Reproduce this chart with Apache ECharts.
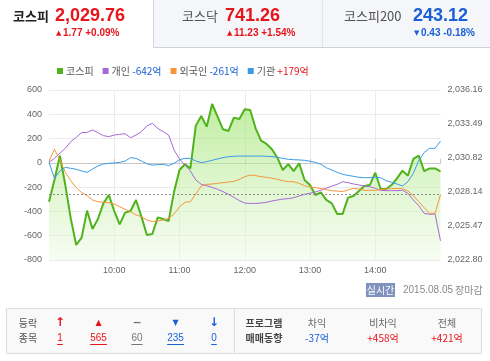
<!DOCTYPE html>
<html><head><meta charset="utf-8">
<script src="https://cdn.jsdelivr.net/npm/echarts@6/dist/echarts.min.js"></script>
<style>html,body{margin:0;padding:0;background:#fff}#c{width:490px;height:361px}</style>
</head><body><div id="c"></div><script>
// ---------- data ----------
const times = ['09:00','09:05','09:10','09:15','09:20','09:25','09:30','09:35','09:40','09:45','09:50','09:55',
'10:00','10:05','10:10','10:15','10:20','10:25','10:30','10:35','10:40','10:45','10:50','10:55',
'11:00','11:05','11:10','11:15','11:20','11:25','11:30','11:35','11:40','11:45','11:50','11:55',
'12:00','12:05','12:10','12:15','12:20','12:25','12:30','12:35','12:40','12:45','12:50','12:55',
'13:00','13:05','13:10','13:15','13:20','13:25','13:30','13:35','13:40','13:45','13:50','13:55',
'14:00','14:05','14:10','14:15','14:20','14:25','14:30','14:35','14:40','14:45','14:50','14:55',
'15:00'];
const kospi = [2027.38,2029.09,2031.00,2028.69,2026.07,2023.98,2024.56,2026.68,2025.24,2026.02,2027.25,2027.91,
2026.65,2025.60,2026.52,2026.65,2027.52,2026.21,2024.76,2024.84,2026.15,2026.02,2025.87,2028.17,
2029.87,2030.32,2030.00,2033.36,2034.12,2033.28,2035.06,2034.06,2033.07,2032.94,2033.99,2033.88,
2034.64,2034.59,2033.15,2032.18,2031.92,2031.50,2030.84,2029.87,2030.34,2029.79,2030.40,2029.09,
2028.69,2027.91,2028.12,2027.52,2027.25,2026.42,2026.42,2027.70,2027.83,2028.22,2028.62,2028.69,
2029.66,2028.38,2028.38,2028.69,2029.22,2029.82,2029.43,2030.74,2031.00,2029.79,2030.00,2030.00,
2029.76];
const individual = [4,37,79,120,175,210,249,251,271,249,224,216,
229,235,240,207,229,257,304,326,284,257,229,106,
32,-18,-67,-141,-177,-188,-202,-218,-237,-259,-284,-311,
-331,-334,-334,-331,-325,-314,-306,-298,-295,-287,-273,-259,
-250,-240,-225,-208,-191,-177,-155,-163,-174,-182,-191,-196,
-210,-226,-229,-229,-229,-226,-251,-306,-353,-416,-424,-421,
-642];
const foreign = [15,111,24,-78,-147,-204,-245,-270,-306,-320,-325,-328,
-339,-361,-383,-402,-429,-443,-471,-484,-478,-471,-457,-421,
-363,-325,-320,-256,-191,-177,-174,-169,-163,-158,-152,-136,
-114,-100,-105,-114,-119,-127,-136,-147,-155,-155,-169,-188,
-199,-204,-212,-221,-229,-232,-237,-223,-210,-215,-226,-226,
-226,-221,-215,-212,-212,-212,-232,-270,-320,-369,-416,-416,
-261];
const institution = [4,-127,-67,-37,-45,-53,-67,-78,-51,-26,-9,-4,
-1,4,15,43,37,15,-7,-18,-15,-12,-23,-4,
26,37,37,15,2,10,21,32,43,51,54,56,
56,56,56,56,54,51,46,37,29,26,24,21,
13,4,-12,-40,-59,-78,-94,-103,-111,-119,-122,-122,
-119,-122,-147,-160,-174,-191,-155,-86,20,85,120,120,
179];
const prevClose = 2027.99;
const rightTicks = [2022.80, 2025.472, 2028.144, 2030.816, 2033.488, 2036.16];
const seriesNames = ['코스피','개인','외국인','기관'];
const netFlow = {'개인':'-642억','외국인':'-261억','기관':'+179억'};
const tabNames = ['코스피','코스닥','코스피200'];
const tabValues = ['2,029.76','741.26','243.12'];
const tabChanges = ['1.77 +0.09%','11.23 +1.54%','0.43 -0.18%'];
const upDownCounts = ['1','565','60','235','0'];
const programLabels = ['차익','비차익','전체'];
const programValues = ['-37억','+458억','+421억'];

// ---------- styles ----------
const RED = '#e8141b', BLUE = '#1a5fd6';
const KR = '"Noto Sans CJK KR"';
const LS = '"Liberation Sans"';
const C = {kospi:'#4fb31b', ind:'#a66ad6', for:'#f7943a', inst:'#3b9be6'};

function txt(x, y, text, font, fill, align) {
  return {type:'text', x:x, y:y, silent:true, z:100,
    style:{text:text, font:font, fill:fill, textAlign:align||'left', textVerticalAlign:'middle'}};
}
function hline(x1, x2, y, color) {
  return {type:'line', silent:true, z:90, shape:{x1:x1,y1:y,x2:x2,y2:y}, style:{stroke:color, lineWidth:1}};
}
function vline(x, y1, y2, color) {
  return {type:'line', silent:true, z:90, shape:{x1:x,y1:y1,x2:x,y2:y2}, style:{stroke:color, lineWidth:1}};
}

const g = [];
// tabs
g.push({type:'rect', silent:true, z:80, shape:{x:153,y:0,width:337,height:47}, style:{fill:'#f5f6f9'}});
g.push(vline(153.5,0,47,'#d6d9df'));
g.push(vline(322.5,0,47,'#e1e3e8'));
g.push(hline(153,490,47.5,'#cdd1d8'));
const tabX = [13,182,344], valX=[55,225,413], chX=[56,227,414];
const tabNameColor = ['#222','#555','#555'];
const valColor = [RED,RED,BLUE];
const arrows = ['▲','▲','▼'];
for (let i=0;i<3;i++){
  g.push(txt(tabX[i],16,tabNames[i],(i===0?'bold ':'')+'13px '+KR,tabNameColor[i]));
  g.push(txt(valX[i],16,tabValues[i],'bold 18px '+LS,valColor[i]));
  g.push(txt(chX[i],33,arrows[i],'7px "DejaVu Sans"',valColor[i]));
  g.push(txt(chX[i]+7,33,tabChanges[i],'bold 10px '+LS,valColor[i]));
}
// bottom status
g.push({type:'rect', silent:true, z:80, shape:{x:366,y:283,width:29,height:14}, style:{fill:'#7f92bd'}});
g.push(txt(380.5,290,'실시간','10px '+KR,'#fff','center'));
g.push(txt(403,290,'2015.08.05','10px '+LS,'#8a8a8a'));
g.push(txt(455,290,'장마감','10px '+KR,'#8a8a8a'));
// table
g.push({type:'rect', silent:true, z:80, shape:{x:6.5,y:308.5,width:475,height:45}, style:{fill:'#f9f9f9', stroke:'#dcdcdc', lineWidth:1}});
g.push(vline(234.5,309,353,'#dcdcdc'));
g.push(txt(28,323,'등락','10px '+KR,'#555','center'));
g.push(txt(28,338,'종목','10px '+KR,'#555','center'));
const udX = [60,98.5,137,175.5,214];
const udSym = ['↑','▲','−','▼','↓'];
const udFont = ['bold 12px "DejaVu Sans"','8px "DejaVu Sans"','bold 11px "DejaVu Sans"','8px "DejaVu Sans"','bold 12px "DejaVu Sans"'];
const udCol = [RED,RED,'#777',BLUE,BLUE];
for (let i=0;i<5;i++){
  g.push(txt(udX[i],323,udSym[i],udFont[i],udCol[i],'center'));
  g.push(txt(udX[i],338,upDownCounts[i],'10px '+LS,udCol[i],'center'));
  const w = upDownCounts[i].length*5.6;
  g.push(hline(udX[i]-w/2,udX[i]+w/2,344.5,udCol[i]));
}
g.push(txt(264,323,'프로그램','bold 10px '+KR,'#444','center'));
g.push(txt(264,338,'매매동향','bold 10px '+KR,'#444','center'));
const pX = [317,383,447];
for (let i=0;i<3;i++){
  g.push(txt(pX[i],323,programLabels[i],'10px '+KR,'#666','center'));
  g.push(txt(pX[i],338,programValues[i],'10px '+KR,programValues[i][0]==='-'?BLUE:RED,'center'));
}

const chart = echarts.init(document.getElementById('c'), null, {renderer:'canvas'});
chart.setOption({
  animation:false,
  backgroundColor:'#fff',
  grid:{left:49, right:49.5, top:90, bottom:101, containLabel:false},
  legend:{
    left:57, top:66, padding:0, icon:'rect', itemWidth:6, itemHeight:6, itemGap:9,
    data:seriesNames,
    textStyle:{fontSize:10, color:'#555', fontFamily:KR, padding:[0,0,0,-2],
      rich:{neg:{color:BLUE,fontSize:10,fontFamily:KR}, pos:{color:RED,fontSize:10,fontFamily:KR}}},
    formatter:function(n){ const f=netFlow[n]; if(!f) return n; return n+' {'+(f[0]==='-'?'neg':'pos')+'|'+f+'}'; }
  },
  xAxis:{
    type:'category', data:times, boundaryGap:false,
    axisLine:{lineStyle:{color:'#c8c8c8'}},
    axisTick:{show:true, inside:true, length:4, interval:11, lineStyle:{color:'#c8c8c8'}},
    axisLabel:{interval:11, fontSize:9, color:'#666', fontFamily:LS, margin:6,
      formatter:function(v){ return (v==='09:00'||v==='15:00')?'':v; }},
    splitLine:{show:true, interval:11, showMinLine:false, showMaxLine:false, lineStyle:{color:'#ebebeb'}}
  },
  yAxis:[
    {type:'value', min:-800, max:600, interval:200, position:'left',
     axisLine:{show:false}, axisTick:{show:false},
     axisLabel:{fontSize:9, color:'#666', fontFamily:LS, margin:7},
     splitLine:{lineStyle:{color:'#ebebeb'}}},
    {type:'value', min:2022.80, max:2036.16, position:'right',
     axisLine:{show:false}, axisTick:{show:false}, splitLine:{show:false},
     axisLabel:{fontSize:9, color:'#666', fontFamily:LS, margin:7, customValues:rightTicks,
       formatter:function(v){ const s=v.toFixed(2); return s.slice(0,s.length-6)+','+s.slice(-6); }}}
  ],
  series:[
    {name:'코스피', type:'line', yAxisIndex:1, data:kospi, symbol:'none', z:2,
     lineStyle:{color:C.kospi, width:2}, itemStyle:{color:C.kospi},
     areaStyle:{origin:'start', color:new echarts.graphic.LinearGradient(0,0,0,1,[
       {offset:0,color:'rgba(150,226,98,0.85)'},{offset:1,color:'rgba(238,250,230,0.7)'}])},
     markLine:{silent:true, symbol:'none', label:{show:false},
       lineStyle:{color:'#8c8c8c', type:[2,2], width:1}, data:[{yAxis:prevClose}]}},
    {name:'개인', type:'line', yAxisIndex:0, data:individual, symbol:'none', z:3,
     lineStyle:{color:C.ind, width:1}, itemStyle:{color:C.ind}},
    {name:'외국인', type:'line', yAxisIndex:0, data:foreign, symbol:'none', z:3,
     lineStyle:{color:C.for, width:1}, itemStyle:{color:C.for}},
    {name:'기관', type:'line', yAxisIndex:0, data:institution, symbol:'none', z:3,
     lineStyle:{color:C.inst, width:1}, itemStyle:{color:C.inst}}
  ],
  graphic:g
});
</script></body></html>
